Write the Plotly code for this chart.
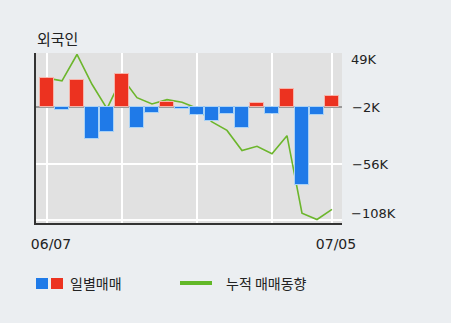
import plotly.graph_objects as go

# Trading days (2018) shown on the category axis
dates = ["06/07", "06/08", "06/11", "06/12", "06/14", "06/15", "06/18", "06/19",
         "06/20", "06/21", "06/22", "06/25", "06/26", "06/27", "06/28", "06/29",
         "07/02", "07/03", "07/04", "07/05"]

# Daily foreign net trading (thousand shares)
daily = [27.6, -2.8, 25.7, -30.2, -23.3, 31.4, -19.5, -5.4, 5.0, -2.2,
         -7.5, -12.9, -6.6, -19.5, 4.1, -6.6, 17.0, -73.5, -7.5, 10.4]

# Cumulative net trading trend (thousand shares)
cumulative = [25.3, 22.8, 47.6, 19.5, -3.5, 25.8, 6.9, 1.0, 5.0, 2.5,
              -3.0, -16.0, -24.0, -43.0, -39.0, -46.0, -29.0, -102.0, -108.0, -98.5]

right_ticks = [49, -2, -56, -108]
right_labels = ["49K", "−2K", "−56K", "−108K"]
grid_dates = [dates[0], dates[5], dates[10], dates[15], dates[19]]
grid_labels = ["06/07", "", "", "", "07/05"]

BLUE, RED = "#1f7ae8", "#ec3220"
BLUE_EDGE, RED_EDGE = "#a9d2f6", "#f6b4aa"
GREEN = "#6cb62c"
W, H = 451, 323
L, R, T, B = 36, 109, 53, 100
TICK_FONT = dict(family="DejaVu Sans", size=13, color="#222")

# line axis range: the top gridline carries 49K, bar zero sits at -2K
y_top = 49.0
y_bot = -111.3
bar_offset = -2.0

fig = go.Figure()
fig.add_trace(go.Bar(
    x=dates, y=daily, yaxis="y2", width=0.87,
    marker=dict(color=[RED if v > 0 else BLUE for v in daily],
                line=dict(color=[RED_EDGE if v > 0 else BLUE_EDGE for v in daily], width=1)),
    showlegend=False, hoverinfo="skip"))
fig.add_trace(go.Scatter(
    x=dates, y=cumulative, yaxis="y", mode="lines",
    line=dict(color=GREEN, width=1.6), showlegend=False, hoverinfo="skip"))

pw = W - L - R
ph = H - T - B
def px(x):
    return (x - L) / pw
def py(y):
    return (H - B - y) / ph

shapes = [
    dict(type="rect", xref="paper", yref="paper", x0=px(36), x1=px(48), y0=py(289), y1=py(278),
         fillcolor=BLUE, line=dict(width=0)),
    dict(type="rect", xref="paper", yref="paper", x0=px(51), x1=px(63), y0=py(289), y1=py(278),
         fillcolor=RED, line=dict(width=0)),
    dict(type="line", xref="paper", yref="paper", x0=px(180), x1=px(212), y0=py(283), y1=py(283),
         line=dict(color="#62b828", width=4)),
]
annotations = [
    dict(text="외국인", xref="paper", yref="paper", x=px(35), y=py(38), xanchor="left",
         yanchor="middle", showarrow=False, font=dict(size=15, color="#222")),
    dict(text="일별매매", xref="paper", yref="paper", x=px(68), y=py(283), xanchor="left",
         yanchor="middle", showarrow=False, font=dict(size=14, color="#222")),
    dict(text="누적 매매동향", xref="paper", yref="paper", x=px(224), y=py(283), xanchor="left",
         yanchor="middle", showarrow=False, font=dict(size=14, color="#222")),
]
# end labels of the right axis are tucked inside the plot span
for val, txt, shift in [(right_ticks[0], right_labels[0], -6), (right_ticks[3], right_labels[3], 6)]:
    annotations.append(dict(text=txt, xref="paper", yref="y", x=1, y=val, xanchor="left",
                            yanchor="middle", xshift=7, yshift=shift, showarrow=False,
                            font=TICK_FONT))

fig.update_layout(
    width=W, height=H, margin=dict(l=L, r=R, t=T, b=B),
    paper_bgcolor="#ebeef1", plot_bgcolor="#e1e1e1",
    font=dict(family="Noto Sans CJK KR, Noto Sans, sans-serif", size=13, color="#222"),
    bargap=0,
    xaxis=dict(type="category", range=[-0.733, 19.667], tickmode="array",
               tickvals=grid_dates, ticktext=grid_labels, showgrid=True,
               gridcolor="#ffffff", gridwidth=1.5, showline=True, linecolor="#333",
               linewidth=2, ticks="", ticklabelstandoff=7, ticklabelshift=4,
               tickfont=dict(family="DejaVu Sans", size=14, color="#222")),
    yaxis=dict(side="right", range=[y_bot, y_top], tickmode="array",
               tickvals=right_ticks, ticktext=["", right_labels[1], right_labels[2], ""],
               showgrid=True, gridcolor="#ffffff", gridwidth=1.5, zeroline=False,
               showline=False, ticks="", ticklabelstandoff=9, tickfont=TICK_FONT),
    yaxis2=dict(overlaying="y", side="left",
                range=[y_bot - bar_offset, y_top - bar_offset], showgrid=False,
                zeroline=True, zerolinecolor="#9a9a9a", zerolinewidth=2,
                showticklabels=False, ticks="", showline=True, linecolor="#333",
                linewidth=2),
    shapes=shapes, annotations=annotations,
)

fig.write_html("out.html")
